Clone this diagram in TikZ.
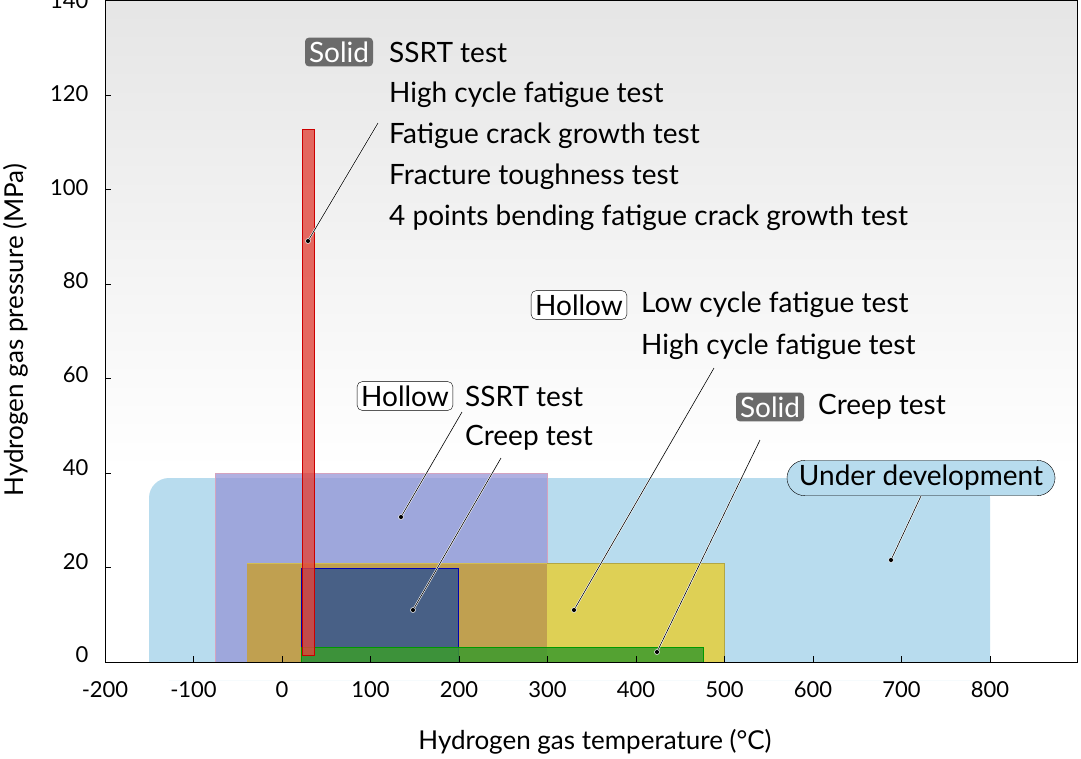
\documentclass[tikz,border=0pt]{standalone}
\usepackage{fontspec}
\setmainfont{Lato}
\definecolor{udblue}{RGB}{184,220,238}
\definecolor{ylw}{RGB}{222,208,85}
\definecolor{purp}{RGB}{150,150,215}
\definecolor{brn}{RGB}{192,160,80}
\definecolor{dblue}{RGB}{60,90,140}
\definecolor{grn}{RGB}{60,155,45}
\definecolor{rd}{RGB}{225,70,60}
\begin{document}
\begin{tikzpicture}[x=1pt,y=-1pt,
  lbl/.style={anchor=west,font=\fontsize{28}{30}\selectfont,inner sep=0pt},
  tick/.style={font=\fontsize{22}{24}\selectfont},
  solidb/.style={fill=black!58,text=white,rounded corners=4pt,font=\fontsize{28}{30}\selectfont,inner sep=4pt},
  hollowb/.style={draw=black,fill=white,rounded corners=5pt,font=\fontsize{28}{30}\selectfont,inner sep=4pt},
  lead/.style={preaction={draw=white,line width=1.8pt},draw=black,line width=0.6pt},
  dotm/.style={circle,fill=black,draw=white,line width=0.5pt,inner sep=0pt,minimum size=5pt}]
\useasboundingbox (0,0) rectangle (1081,758);
% background
\shade[top color=black!10,bottom color=white] (105,0) rectangle (1077,470);
\fill[white] (105,470) rectangle (1077,662);
% under development region
\fill[udblue, rounded corners=20pt] (149,478) rectangle (990,680);
\fill[white] (105,662) rectangle (1077,680);
% regions
\fill[purp,fill opacity=0.75,draw=magenta!40!gray!60] (215,473) rectangle (547,662);
\fill[ylw,draw=ylw!80!black] (247,563) rectangle (724,662);
\fill[brn] (247,563) rectangle (547,662);
\draw[ylw!60!brn] (247,563) -- (547,563);
\fill[dblue,fill opacity=0.9,draw=blue!70!black] (301,568) rectangle (458,662);
\fill[grn,fill opacity=0.85,draw=green!60!black] (301,647) rectangle (703,662);
\fill[rd,fill opacity=0.8,draw=red!80!black] (302,129) rectangle (314,655);
% frame
\draw[line width=0.6pt] (105,0) rectangle (1077,662);
% ticks
\foreach \v [count=\i from 0] in {-200,-100,0,100,200,300,400,500,600,700,800}{
  \draw (105+\i*88.5,662) -- (105+\i*88.5,656);
  \node[tick] (xt\i) at (105+\i*88.5,690) {\v};}
\foreach \v [count=\i from 0] in {0,20,40,60,80,100,120,140}{
  \draw (105,662-\i*94.5) -- (111,662-\i*94.5);
  \node[tick,anchor=east] (yt\i) at (92,655-\i*93.5) {\v};}
\node[font=\fontsize{26}{28}\selectfont] (xl) at (595,742) {Hydrogen gas temperature (°C)};
\node[font=\fontsize{26}{28}\selectfont,rotate=90] (yl) at (16,330) {Hydrogen gas pressure (MPa)};
% labels group 1
\node[solidb] (s1) at (339,52) {Solid};
\node[lbl] (t11) at (389,52) {SSRT test};
\node[lbl] (t12) at (389,95) {High cycle fatigue test};
\node[lbl] (t13) at (389,136) {Fatigue crack growth test};
\node[lbl] (t14) at (389,177) {Fracture toughness test};
\node[lbl] (t15) at (389,218) {4 points bending fatigue crack growth test};
\coordinate (c1) at (378,123);
\node[dotm] (d1) at (308,241) {};
\draw[lead] (c1) -- (d1);
% group 2
\node[hollowb] (h2) at (579,305) {Hollow};
\node[lbl] (t21) at (641,305) {Low cycle fatigue test};
\node[lbl] (t22) at (641,347) {High cycle fatigue test};
\coordinate (c2) at (714,368);
\node[dotm] (d2) at (574,610) {};
\draw[lead] (c2) -- (d2);
% group 3
\node[hollowb] (h3) at (405,396) {Hollow};
\node[lbl] (t31) at (465,396) {SSRT test};
\node[lbl] (t32) at (465,438) {Creep test};
\coordinate (c3a) at (462,412);
\node[dotm] (d3a) at (401,517) {};
\draw[lead] (c3a) -- (d3a);
\coordinate (c3b) at (501,458);
\node[dotm] (d3b) at (413,610) {};
\draw[lead] (c3b) -- (d3b);
% group 4
\node[solidb] (s4) at (770,407) {Solid};
\node[lbl] (t41) at (818,407) {Creep test};
\coordinate (c4) at (760,440);
\node[dotm] (d4) at (657,652) {};
\draw[lead] (c4) -- (d4);
% under development
\node[draw=black,fill=udblue,rounded corners=18pt,font=\fontsize{28}{30}\selectfont,inner sep=5pt,inner xsep=12pt] (ud) at (921,478) {Under development};
\node[dotm] (d5) at (891,560) {};
\draw[lead] (ud.south) coordinate (c5) -- (d5);
\end{tikzpicture}
\end{document}
